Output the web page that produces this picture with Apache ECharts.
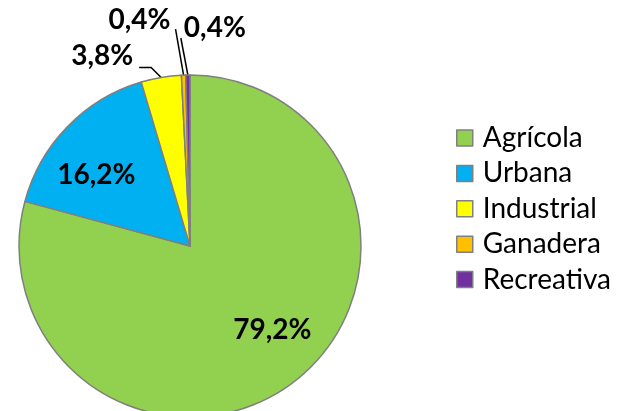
<!DOCTYPE html>
<html>
<head>
    <meta charset="utf-8">
    <title>ECharts</title>
    <script src="https://cdn.jsdelivr.net/npm/echarts@6/dist/echarts.min.js"></script>
</head>
<body style="margin:0">
    <div id="main" style="width: 629px;height:411px;"></div>
    <script type="text/javascript">
        var categories = ["Agrícola", "Urbana", "Industrial", "Ganadera", "Recreativa"];
        var values = [79.2, 16.2, 3.8, 0.4, 0.4];
        var colors = ["#92D050", "#00B0F0", "#FFFF00", "#FFC000", "#7030A0"];

        var CX = 190, CY = 246;
        var myChart = echarts.init(document.getElementById('main'));

        var data = [];
        categories.forEach(function(name, i) {
            var small = values[i] < 10;
            data.push({
                name: name,
                value: values[i],
                itemStyle: { color: colors[i] },
                label: { position: small ? 'outside' : 'inside' },
                labelLine: { show: small }
            });
        });

        function fmt(v) {
            return v.toFixed(1).replace('.', ',') + '%';
        }

        // 内部标签：绕圆心旋转并向外推
        function pushOut(r) {
            var x = r.x + r.width / 2 - CX, y = r.y + r.height / 2 - CY;
            var a = Math.atan2(x, -y) - 7 * Math.PI / 180;
            var d = Math.sqrt(x * x + y * y) * 1.33;
            return { dx: d * Math.sin(a) - x, dy: -d * Math.cos(a) - y };
        }

        var option = {
            animation: false,
            legend: {
                orient: 'vertical',
                left: 456,
                top: 124,
                padding: 0,
                itemWidth: 16,
                itemHeight: 16,
                itemGap: 7.4,
                icon: 'rect',
                itemStyle: { borderColor: '#808080', borderWidth: 1.5 },
                textStyle: { fontFamily: 'Lato', fontSize: 28, color: '#000', lineHeight: 28, padding: [0, 0, 0, 5] },
                data: categories
            },
            series: [{
                type: 'pie',
                center: [CX, CY],
                radius: 171,
                startAngle: 90,
                clockwise: true,
                avoidLabelOverlap: false,
                itemStyle: { borderColor: '#7f7f7f', borderWidth: 1.5 },
                label: {
                    formatter: function(p) { return fmt(p.value); },
                    fontFamily: 'Lato',
                    fontWeight: 'bold',
                    fontSize: 28,
                    color: '#000'
                },
                labelLine: {
                    length: 11,
                    length2: 16,
                    lineStyle: { color: '#000', width: 1.5 }
                },
                labelLayout: function(params) {
                    var i = params.dataIndex;
                    if (i < 2) {
                        return pushOut(params.labelRect);
                    }
                    var pts = params.labelLinePoints;
                    if (!pts) return {};
                    var p0 = pts[0];
                    if (i === 2) {
                        var a = [p0[0] - 10, p0[1] - 10];
                        var b = [a[0] - 12, a[1]];
                        return { x: b[0] - 6, y: b[1] + 3, align: 'right', verticalAlign: 'bottom', labelLinePoints: [p0, a, b] };
                    }
                    if (i === 3) {
                        var t = [p0[0] - 8, p0[1] - 46];
                        return { x: t[0] - 5, y: t[1] - 9, align: 'right', verticalAlign: 'middle', labelLinePoints: [p0, t, t] };
                    }
                    var t2 = [p0[0] - 7, p0[1] - 37];
                    return { x: t2[0] + 3, y: t2[1] - 10, align: 'left', verticalAlign: 'middle', labelLinePoints: [p0, t2, t2] };
                },
                data: data
            }]
        };

        myChart.setOption(option);
    </script>
</body>
</html>
